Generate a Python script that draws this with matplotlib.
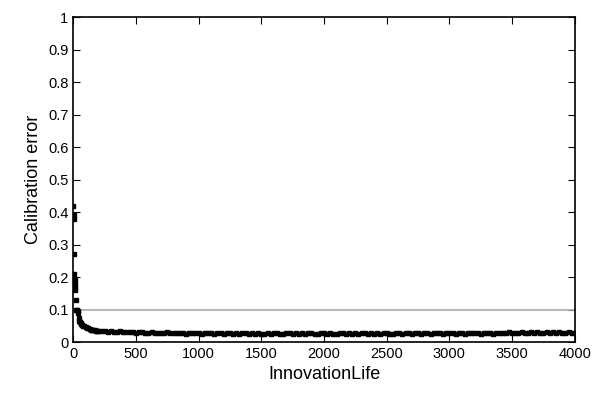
import matplotlib

matplotlib.use("Agg")

import matplotlib.pyplot as plt

plt.rcParams["font.family"] = ["Liberation Sans", "DejaVu Sans"]

# early part of the curve, read point by point
early_x = [2, 4, 6, 8, 10, 12, 14, 16, 18, 20, 25, 30, 35, 40, 45, 50, 55, 60, 65, 70,
           80, 90, 100, 110, 120, 130, 140, 150, 160, 170, 180, 190, 200]
early_y = [0.42, 0.39, 0.38, 0.27, 0.21, 0.19, 0.18, 0.17, 0.16, 0.13, 0.10, 0.10, 0.095, 0.09,
           0.075, 0.065, 0.062, 0.058, 0.055, 0.052, 0.050, 0.048, 0.045, 0.044, 0.042, 0.040,
           0.038, 0.037, 0.036, 0.036, 0.035, 0.034, 0.034]

# flat tail, one reading every 25 units from 225 to 4000
tail_y = [0.033, 0.034, 0.032, 0.033, 0.031, 0.032, 0.033, 0.031, 0.030, 0.031,
          0.030, 0.029, 0.031, 0.030, 0.029, 0.028, 0.030, 0.029, 0.028, 0.029,
          0.028, 0.030, 0.027, 0.028, 0.029, 0.027, 0.028, 0.026, 0.028, 0.027,
          0.029, 0.027, 0.026, 0.028, 0.027, 0.028, 0.026, 0.027, 0.029, 0.026,
          0.027, 0.028, 0.026, 0.027, 0.025, 0.027, 0.028, 0.026, 0.027, 0.026,
          0.028, 0.026, 0.025, 0.027, 0.026, 0.028, 0.027, 0.025, 0.026, 0.028,
          0.027, 0.026, 0.028, 0.025, 0.027, 0.026, 0.028, 0.027, 0.026, 0.025,
          0.027, 0.028, 0.026, 0.027, 0.025, 0.026, 0.028, 0.027, 0.026, 0.028,
          0.025, 0.027, 0.026, 0.028, 0.027, 0.026, 0.028, 0.025, 0.027, 0.026,
          0.028, 0.027, 0.026, 0.025, 0.027, 0.028, 0.026, 0.027, 0.028, 0.026,
          0.027, 0.029, 0.026, 0.027, 0.028, 0.026, 0.027, 0.029, 0.027, 0.026,
          0.028, 0.027, 0.029, 0.026, 0.028, 0.027, 0.026, 0.028, 0.029, 0.027,
          0.028, 0.026, 0.027, 0.029, 0.028, 0.026, 0.028, 0.027, 0.029, 0.028,
          0.030, 0.028, 0.029, 0.027, 0.030, 0.028, 0.029, 0.031, 0.028, 0.030,
          0.029, 0.028, 0.030, 0.029, 0.031, 0.028, 0.030, 0.029, 0.028, 0.030,
          0.029, 0.028, 0.030, 0.029]
tail_x = [225 + 25 * i for i in range(len(tail_y))]

threshold = 0.1

fig = plt.figure(figsize=(6, 4), dpi=100)
ax = fig.add_axes([0.122, 0.145, 0.836, 0.812])
ax.axhline(threshold, color="#aaaaaa", linewidth=1.2)
ax.plot(early_x + tail_x, early_y + tail_y, "s", color="black", markersize=2.2)
# thicken the dense tail band like the original scatter
ax.plot(tail_x, tail_y, "-", color="black", linewidth=1.6)

ax.set_xlim(0, 4000)
ax.set_ylim(0, 1)
ax.set_xticks(range(0, 4001, 500))
ax.set_yticks([i / 10 for i in range(11)])
ax.set_yticklabels(["0", "0.1", "0.2", "0.3", "0.4", "0.5", "0.6", "0.7", "0.8", "0.9", "1"])
ax.tick_params(direction="in", top=True, right=True, labelsize=10.5, length=5)
for s in ax.spines.values():
    s.set_linewidth(1.2)
ax.set_xlabel("InnovationLife", fontsize=13)
ax.set_ylabel("Calibration error", fontsize=13)

fig.savefig("out.png", dpi=100)
